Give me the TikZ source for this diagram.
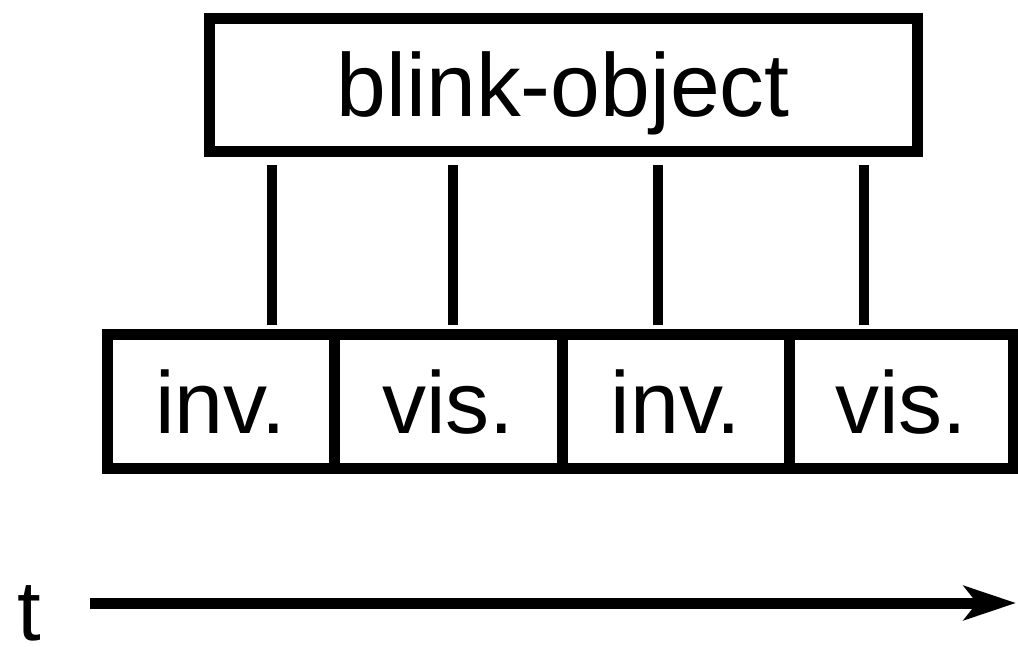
\documentclass[tikz,border=0pt]{standalone}
\usepackage{fontspec}
\setmainfont{Liberation Sans}
\usetikzlibrary{arrows.meta}
\begin{document}
\begin{tikzpicture}[x=1pt,y=1pt,
  box/.style={draw=black,line width=11pt,inner sep=0pt,fill=white,
    font=\fontsize{88pt}{100pt}\selectfont},
  link/.style={draw=black,line width=10pt},
  timeline/.style={draw=black,line width=11pt,-{Stealth[length=52pt,width=34pt,inset=13pt]}}]
\useasboundingbox (0,0) rectangle (1018,646);
\node[box,minimum width=707.5pt,minimum height=133pt,font=\fontsize{89.5pt}{100pt}\selectfont] (obj) at (563.25,560.5) {\raisebox{-31.2pt}[0pt][0pt]{blink-object}};
\node[box,minimum width=227pt,minimum height=133.7pt] (s1) at (220.5,244.15) {inv.};
\node[box,minimum width=228pt,minimum height=133.7pt] (s2) at (448,244.15) {vis.};
\node[box,minimum width=227.5pt,minimum height=133.7pt] (s3) at (675.75,244.15) {inv.};
\node[box,minimum width=223.5pt,minimum height=133.7pt] (s4) at (901.25,244.15) {vis.};
\coordinate (l1t) at (272,481); \coordinate (l1b) at (272,321);
\coordinate (l2t) at (453,481); \coordinate (l2b) at (453,321);
\coordinate (l3t) at (658,481); \coordinate (l3b) at (658,321);
\coordinate (l4t) at (864,481); \coordinate (l4b) at (864,321);
\draw[link] (l1t) -- (l1b);
\draw[link] (l2t) -- (l2b);
\draw[link] (l3t) -- (l3b);
\draw[link] (l4t) -- (l4b);
\node[anchor=base,inner sep=0pt,font=\fontsize{85pt}{100pt}\selectfont] (t) at (29,6) {t};
\coordinate (as) at (90,43);
\coordinate (ae) at (1016,43);
\draw[timeline] (as) -- (ae);
\end{tikzpicture}
\end{document}
